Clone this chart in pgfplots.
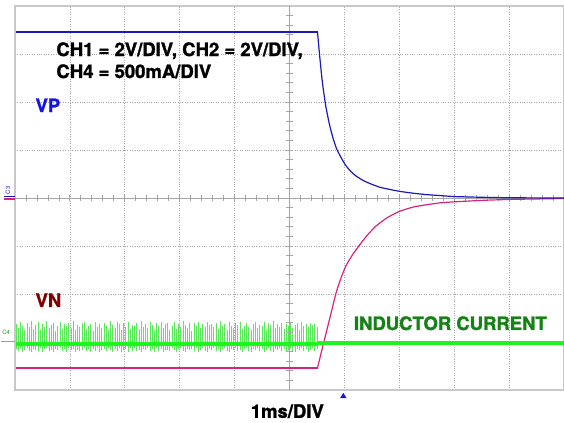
\documentclass[border=0pt]{standalone}
\usepackage{pgfplots}
\pgfplotsset{compat=1.18}
\usepackage{pgfplotstable}
\usepackage{fontspec}
\setmainfont{texgyreheros}[Extension=.otf, UprightFont=*-regular, BoldFont=*-bold]
\newfontfamily\hb{texgyreheros-bold.otf}[FakeBold=1.5]
\definecolor{vpblue}{RGB}{25,25,190}
\definecolor{vptext}{RGB}{20,20,230}
\definecolor{vnmag}{RGB}{215,35,125}
\definecolor{vntext}{RGB}{128,0,0}
\definecolor{ilgreen}{RGB}{30,245,30}
\definecolor{ilspike}{RGB}{88,232,88}
\definecolor{iltext}{RGB}{20,130,20}
\definecolor{gridgray}{RGB}{165,165,165}
\definecolor{bordergray}{RGB}{200,200,200}
\pgfplotstableread{
x top bot
0.02 -2.62 -3.15
0.06 -2.70 -3.19
0.10 -2.58 -3.12
0.14 -2.66 -3.21
0.18 -2.74 -3.16
0.22 -2.60 -3.13
0.26 -2.68 -3.18
0.30 -2.56 -3.20
0.34 -2.72 -3.14
0.38 -2.64 -3.17
0.42 -2.59 -3.18
0.46 -2.76 -3.13
0.50 -2.63 -3.20
0.54 -2.69 -3.15
0.58 -2.57 -3.12
0.62 -2.71 -3.19
0.66 -2.65 -3.16
0.70 -2.61 -3.21
0.74 -2.78 -3.14
0.78 -2.67 -3.17
0.82 -2.58 -3.13
0.86 -2.73 -3.19
0.90 -2.62 -3.15
0.94 -2.66 -3.21
0.98 -2.60 -3.12
1.02 -2.70 -3.17
1.06 -2.57 -3.14
1.10 -2.75 -3.20
1.14 -2.64 -3.16
1.18 -2.68 -3.18
1.22 -2.61 -3.16
1.26 -2.59 -3.12
1.30 -2.72 -3.19
1.34 -2.66 -3.14
1.38 -2.63 -3.21
1.42 -2.77 -3.15
1.46 -2.58 -3.18
1.50 -2.69 -3.13
1.54 -2.62 -3.20
1.58 -2.71 -3.17
1.62 -2.60 -3.14
1.66 -2.67 -3.19
1.70 -2.74 -3.12
1.74 -2.57 -3.16
1.78 -2.65 -3.21
1.82 -2.70 -3.15
1.86 -2.59 -3.18
1.90 -2.63 -3.13
1.94 -2.76 -3.20
1.98 -2.61 -3.17
2.02 -2.68 -3.15
2.06 -2.58 -3.20
2.10 -2.72 -3.13
2.14 -2.64 -3.18
2.18 -2.66 -3.12
2.22 -2.60 -3.19
2.26 -2.73 -3.16
2.30 -2.57 -3.21
2.34 -2.69 -3.14
2.38 -2.62 -3.17
2.42 -2.71 -3.13
2.46 -2.59 -3.19
2.50 -2.65 -3.15
2.54 -2.75 -3.21
2.58 -2.61 -3.12
2.62 -2.67 -3.18
2.66 -2.58 -3.14
2.70 -2.70 -3.20
2.74 -2.63 -3.16
2.78 -2.60 -3.17
2.82 -2.74 -3.19
2.86 -2.66 -3.13
2.90 -2.59 -3.16
2.94 -2.72 -3.21
2.98 -2.62 -3.15
3.02 -2.68 -3.12
3.06 -2.57 -3.18
3.10 -2.64 -3.20
3.14 -2.70 -3.14
3.18 -2.61 -3.17
3.22 -2.77 -3.15
3.26 -2.60 -3.19
3.30 -2.66 -3.13
3.34 -2.58 -3.21
3.38 -2.71 -3.16
3.42 -2.63 -3.12
3.46 -2.69 -3.18
3.50 -2.59 -3.20
3.54 -2.65 -3.14
3.58 -2.62 -3.17
3.62 -2.68 -3.13
3.66 -2.60 -3.19
3.70 -2.73 -3.15
3.74 -2.57 -3.21
3.78 -2.66 -3.16
3.82 -2.62 -3.12
3.86 -2.75 -3.18
3.90 -2.59 -3.20
3.94 -2.67 -3.14
3.98 -2.71 -3.17
4.02 -2.61 -3.13
4.06 -2.64 -3.19
4.10 -2.58 -3.16
4.14 -2.72 -3.21
4.18 -2.66 -3.15
4.22 -2.60 -3.12
4.26 -2.69 -3.18
4.30 -2.76 -3.20
4.34 -2.62 -3.14
4.38 -2.58 -3.17
4.42 -2.70 -3.13
4.46 -2.64 -3.19
4.50 -2.67 -3.15
4.54 -2.59 -3.21
4.58 -2.74 -3.16
4.62 -2.61 -3.12
4.66 -2.65 -3.18
4.70 -2.57 -3.20
4.74 -2.71 -3.14
4.78 -2.63 -3.17
4.82 -2.68 -3.13
4.86 -2.60 -3.19
4.90 -2.73 -3.15
4.94 -2.62 -3.21
4.98 -2.66 -3.16
5.02 -2.58 -3.12
5.06 -2.70 -3.18
5.10 -2.64 -3.20
5.14 -2.61 -3.14
5.18 -2.75 -3.17
5.22 -2.59 -3.13
5.26 -2.67 -3.19
5.30 -2.63 -3.15
5.34 -2.69 -3.21
5.38 -2.60 -3.16
5.42 -2.65 -3.12
5.46 -2.62 -3.18
5.50 -2.68 -3.14
}\spikes
\begin{document}
\begin{tikzpicture}
\begin{axis}[
  at={(15bp,33bp)}, anchor=south west,
  scale only axis, width=549bp, height=384bp,
  xmin=0, xmax=10, ymin=-4, ymax=4,
  xtick={1,...,9}, ytick={-3,...,3},
  xticklabels={}, yticklabels={},
  major tick length=0pt,
  grid=major,
  grid style={draw=gridgray, dotted, line width=0.7bp},
  axis line style={draw=bordergray, line width=1.6bp},
  clip=false,
  set layers=standard,
]
% center cross
\draw[gridgray, line width=0.9bp] (axis cs:0,0) -- (axis cs:10,0);
\draw[gridgray, line width=0.9bp] (axis cs:5,-4) -- (axis cs:5,4);
\pgfplotsinvokeforeach{0.2,0.4,...,9.8}{\draw[gridgray, line width=0.8bp] (axis cs:#1,-0.065) -- (axis cs:#1,0.065);}
\pgfplotsinvokeforeach{-3.8,-3.6,...,3.8}{\draw[gridgray, line width=0.8bp] (axis cs:4.945,#1) -- (axis cs:5.055,#1);}

% inductor current spikes (vertical segments from bot to top)
\addplot[on layer=pre main, draw=none, only marks, mark size=0pt, mark options={draw=none, fill=none},
  error bars/.cd, y dir=plus, y explicit, error mark=none,
  error bar style={draw=ilspike, solid, line width=0.8bp}]
  table[x=x, y=bot, y error plus expr=\thisrow{top}-\thisrow{bot}] {\spikes};

% VN
\addplot[vnmag, line width=1.2bp, no marks] coordinates {(0.02,-3.54) (5.51,-3.54)};
\addplot[vnmag, line width=1.2bp, no marks, smooth, tension=0.35] coordinates {
(5.51,-3.54) (5.60,-3.12) (5.70,-2.66) (5.78,-2.29) (5.85,-1.97) (5.94,-1.66)
(6.03,-1.41) (6.15,-1.18) (6.27,-0.99) (6.42,-0.77) (6.58,-0.58) (6.78,-0.41)
(7.00,-0.28) (7.25,-0.19) (7.50,-0.14) (7.75,-0.10) (8.00,-0.08) (8.50,-0.05)
(9.00,-0.03) (9.50,-0.02) (10,-0.01)
};
% VP
\addplot[vpblue, line width=1.2bp, no marks] coordinates {(0.02,3.46) (5.51,3.46)};
\addplot[vpblue, line width=1.2bp, no marks, smooth, tension=0.35] coordinates {
(5.51,3.46) (5.55,2.95) (5.60,2.40) (5.66,1.92) (5.73,1.52) (5.80,1.22) (5.86,1.02)
(5.95,0.82) (6.03,0.67) (6.12,0.55) (6.21,0.46) (6.35,0.36) (6.51,0.28) (6.66,0.22)
(6.82,0.18) (7.00,0.14) (7.25,0.10) (7.50,0.07) (7.75,0.05) (8.00,0.03) (8.50,0.015)
(9.00,0.005) (10,0.0)
};
% inductor current band
\addplot[draw=ilgreen, solid, no marks, line width=4.5bp] coordinates {(0.02,-3.04) (5.52,-3.04)};
\addplot[draw=ilgreen, solid, no marks, line width=4bp] coordinates {(5.52,-3.02) (10,-3.02)};

% labels
\node[anchor=base west, font=\hb\fontsize{18.5bp}{22bp}\selectfont] at (axis cs:0.69,2.958) {CH1 = 2V/DIV, CH2 = 2V/DIV,};
\node[anchor=base west, font=\hb\fontsize{18.5bp}{22bp}\selectfont] at (axis cs:0.69,2.50) {CH4 = 500mA/DIV};
\node[anchor=base west, text=vptext, font=\hb\fontsize{18.5bp}{22bp}\selectfont] at (axis cs:0.31,1.79) {VP};
\node[anchor=base west, text=vntext, font=\hb\fontsize{18.5bp}{22bp}\selectfont] at (axis cs:0.31,-2.27) {VN};
\node[anchor=base west, text=iltext, font=\hb\fontsize{18.5bp}{22bp}\selectfont] at (axis cs:6.11,-2.75) {INDUCTOR CURRENT};
\node[anchor=base, font=\hb\fontsize{18.5bp}{22bp}\selectfont] at (axis cs:4.96,-4.58) {1ms/DIV};

% channel markers
\node[text=ilgreen!70!black, font=\fontsize{6bp}{6bp}\selectfont] at (axis cs:-0.16,-2.80) {C4};
\draw[ilgreen, line width=1bp] (axis cs:-0.25,-3.0) -- (axis cs:0,-3.0);
\node[text=vptext, font=\fontsize{6bp}{6bp}\selectfont, rotate=90] at (axis cs:-0.13,0.16) {C3};
\draw[vnmag, line width=1.2bp] (axis cs:-0.2,-0.02) -- (axis cs:0,-0.02);
\draw[vpblue, line width=0.8bp] (axis cs:-0.2,0.03) -- (axis cs:0,0.03);
\fill[vptext] (axis cs:5.98,-4.06) -- (axis cs:5.92,-4.17) -- (axis cs:6.04,-4.17) -- cycle;
\end{axis}
\pgfresetboundingbox
\path[use as bounding box] (0,0) rectangle (564bp,423bp);
\end{tikzpicture}
\end{document}
